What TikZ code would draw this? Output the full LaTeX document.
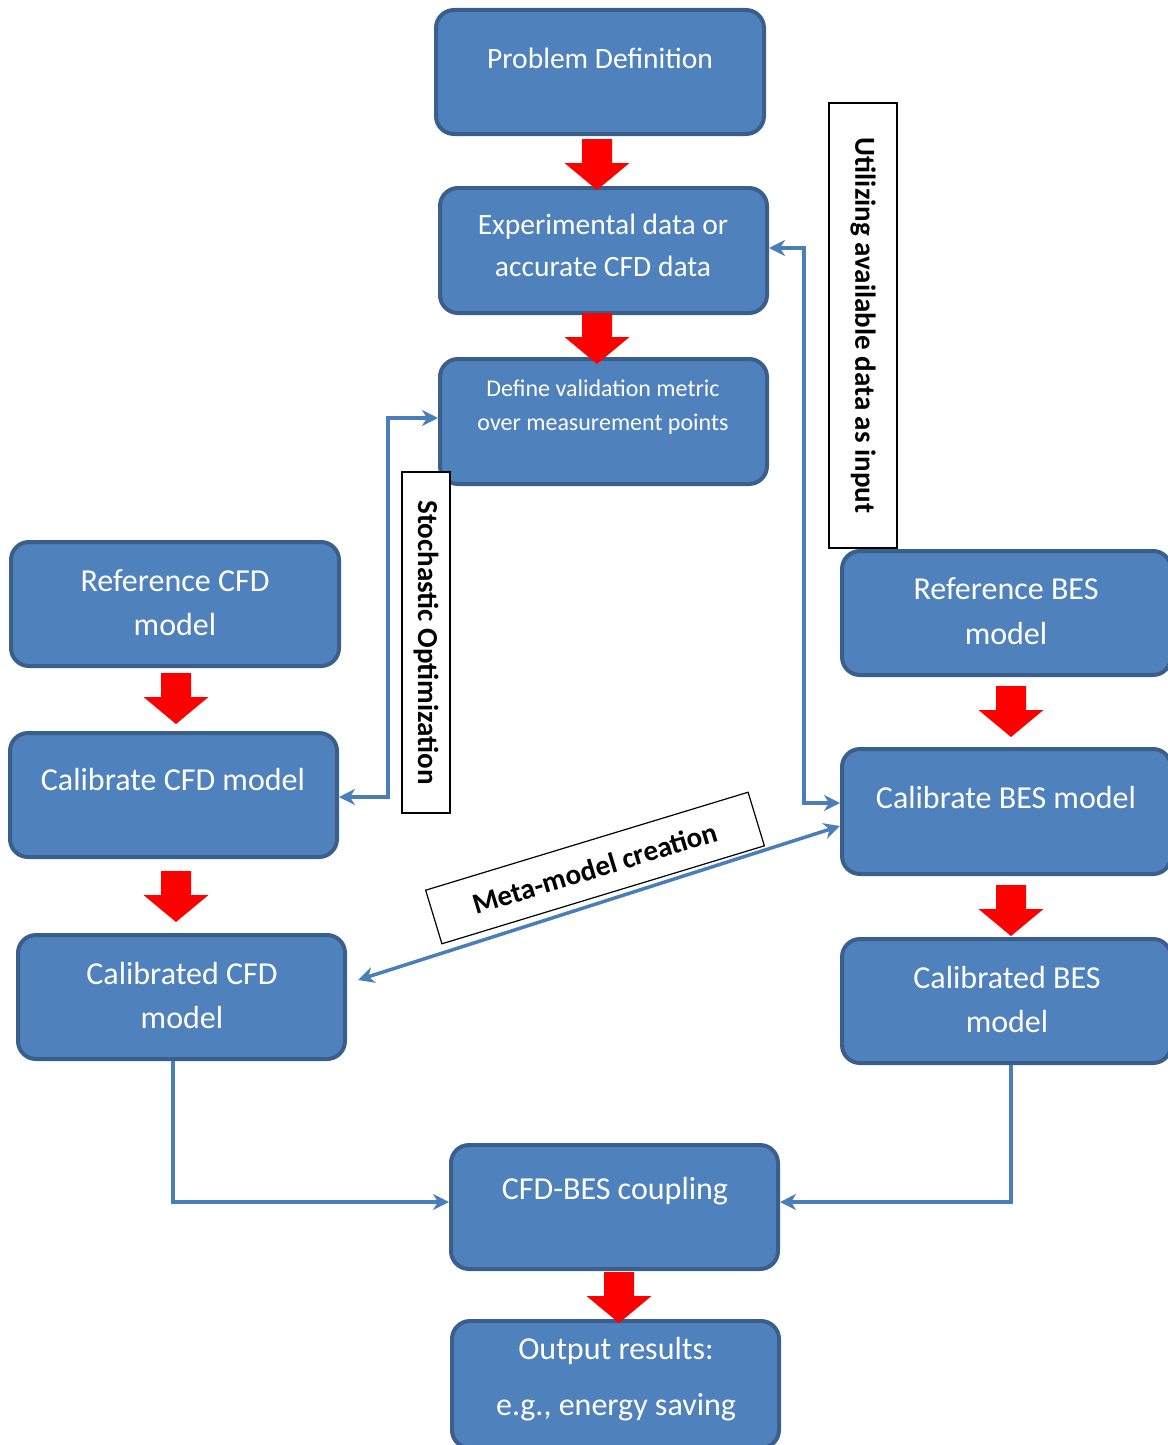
\documentclass[tikz,border=0pt]{standalone}
\usepackage{fontspec}
\setmainfont{Carlito}
\usetikzlibrary{arrows.meta}
\definecolor{boxfill}{HTML}{4F81BD}
\definecolor{boxline}{HTML}{3A5F8B}
\definecolor{conncol}{HTML}{4A7EBB}
\definecolor{redarr}{HTML}{FF0000}
\tikzset{
  flowbox/.style={draw=boxline, fill=boxfill, line width=4pt, rounded corners=18pt, inner sep=0pt},
  boxtxt/.style={text=white, align=center, inner sep=0pt, font=\fontsize{32}{44.5}\selectfont},
  smalltxt/.style={text=white, align=center, inner sep=0pt, font=\fontsize{24}{34}\selectfont},
  lblbox/.style={draw=black, fill=white, line width=1.2pt, inner sep=0pt, font=\bfseries\fontsize{29}{34}\selectfont},
  conn/.style={draw=conncol, line width=3.5pt, {Stealth[length=16pt,width=16pt,inset=5pt]}-{Stealth[length=16pt,width=16pt,inset=5pt]}},
  connone/.style={draw=conncol, line width=3.5pt, -{Stealth[length=16pt,width=16pt,inset=5pt]}},
  redarrow/.pic={\fill[redarr] (-15,0) -- (15,0) -- (15,24) -- (32.5,24) -- (0,51) -- (-32.5,24) -- (-15,24) -- cycle;}
}
\begin{document}
\begin{tikzpicture}[x=1pt,y=-1pt]
\useasboundingbox (0,0) rectangle (1167,1445);
% boxes (size = outer - line width)
\node[flowbox, minimum width=328pt, minimum height=124pt] (pd)  at (600,72) {};
\node[flowbox, minimum width=327pt, minimum height=125pt] (ex)  at (603.5,250.5) {};
\node[flowbox, minimum width=327pt, minimum height=125pt] (dv)  at (603.5,421.5) {};
\node[flowbox, minimum width=328pt, minimum height=124pt] (rc)  at (175,604) {};
\node[flowbox, minimum width=327pt, minimum height=124pt] (cc)  at (173.5,795) {};
\node[flowbox, minimum width=327pt, minimum height=124pt] (cdc) at (181.5,997) {};
\node[flowbox, minimum width=329pt, minimum height=124pt] (rb)  at (1006.5,613) {};
\node[flowbox, minimum width=329pt, minimum height=125pt] (cb)  at (1006.5,811.5) {};
\node[flowbox, minimum width=329pt, minimum height=124pt] (cdb) at (1006.5,1001) {};
\node[flowbox, minimum width=327pt, minimum height=124pt] (cp)  at (614.5,1207) {};
\node[flowbox, minimum width=327pt, minimum height=127pt] (or)  at (615.5,1384.5) {};
% texts
\node[boxtxt, font=\fontsize{29.5}{42}\selectfont] (tpd) at (600,58) {Problem Definition};
\node[boxtxt, font=\fontsize{29.5}{42}\selectfont] (tex) at (603,245) {Experimental data or\\accurate CFD data};
\node[smalltxt] (tdv) at (603,407) {Define validation metric\\over measurement points};
\node[boxtxt] (trc)  at (175,602.5) {Reference CFD\\model};
\node[boxtxt] (tcc)  at (173,779) {Calibrate CFD model};
\node[boxtxt] (tcdc) at (182,995.5) {Calibrated CFD\\model};
\node[boxtxt] (trb)  at (1006,611) {Reference BES\\model};
\node[boxtxt] (tcb)  at (1006,797) {Calibrate BES model};
\node[boxtxt] (tcdb) at (1007,999.5) {Calibrated BES\\model};
\node[boxtxt] (tcp)  at (615,1191) {CFD-BES coupling};
\node[boxtxt, font=\fontsize{32}{56}\selectfont] (tor) at (616,1379) {Output results:\\e.g., energy saving};
% red block arrows
\pic at (597,139) {redarrow};
\pic at (597,313) {redarrow};
\pic at (176,673) {redarrow};
\pic at (176,871) {redarrow};
\pic at (1011,686) {redarrow};
\pic at (1011,885) {redarrow};
\pic at (619,1272) {redarrow};
% blue connectors
\draw[conn] ([yshift=-2pt]cc.east) -- ++(49,0) |- ([yshift=3.5pt]dv.west);
\draw[conn] ([yshift=2.5pt]ex.east) -- ++(35,0) |- ([yshift=8.5pt]cb.west);
\draw[conn] ([xshift=11pt,yshift=17pt]cdc.east) -- ([yshift=-14.5pt]cb.west);
\draw[connone] ([xshift=-8.5pt]cdc.south) |- ([yshift=5pt]cp.west);
\draw[connone] ([xshift=4.5pt]cdb.south) |- ([yshift=5pt]cp.east);
% labels
\node[lblbox, rotate=-90, minimum width=341pt, minimum height=48pt] (lso) at (426,642.5) {Stochastic Optimization};
\node[lblbox, rotate=-90, minimum width=445pt, minimum height=68pt] (lua) at (863,325.5) {Utilizing available data as input};
\node[lblbox, rotate=16.9, minimum width=337pt, minimum height=56pt] (lmm) at (595,868) {Meta-model creation};
\end{tikzpicture}
\end{document}
